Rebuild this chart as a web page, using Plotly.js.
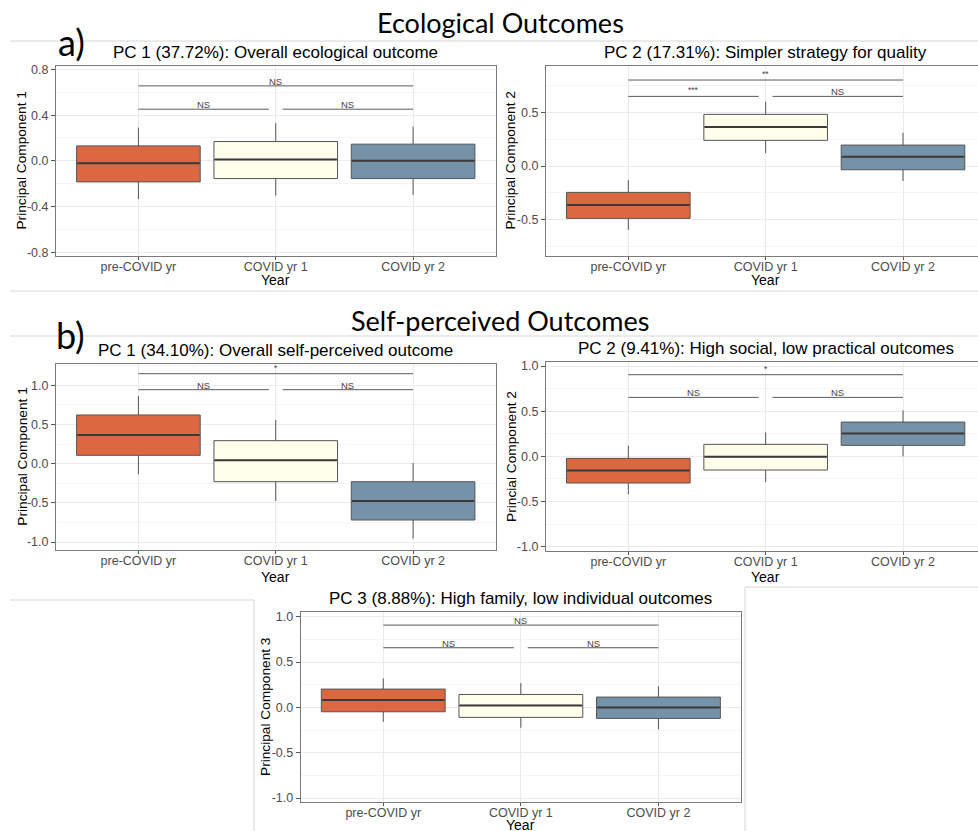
<!DOCTYPE html>
<html>
<head>
<meta charset="utf-8">
<script src="https://cdn.plot.ly/plotly-3.0.1.min.js"></script>
<style>html,body{margin:0;padding:0;background:#fff;}#chart{width:978px;height:831px;}</style>
</head>
<body>
<div id="chart"></div>
<script>
// ---------------- DATA ----------------
const categories = ['pre-COVID yr', 'COVID yr 1', 'COVID yr 2'];

// a) Ecological PC1
const eco1Lower  = [-0.335, -0.304, -0.298];
const eco1Q1     = [-0.184, -0.155, -0.155];
const eco1Median = [-0.020,  0.011,  0.000];
const eco1Q3     = [ 0.131,  0.169,  0.146];
const eco1Upper  = [ 0.291,  0.330,  0.300];
const eco1SigY   = [0.452, 0.452, 0.656];
const eco1SigText = ['NS', 'NS', 'NS'];
const eco1YTicks = [-0.8, -0.4, 0.0, 0.4, 0.8];

// a) Ecological PC2
const eco2Lower  = [-0.598, 0.121, -0.140];
const eco2Q1     = [-0.489, 0.240, -0.035];
const eco2Median = [-0.364, 0.364,  0.087];
const eco2Q3     = [-0.246, 0.483,  0.196];
const eco2Upper  = [-0.131, 0.601,  0.311];
const eco2SigY   = [0.651, 0.651, 0.804];
const eco2SigText = ['***', 'NS', '**'];
const eco2YTicks = [-0.5, 0.0, 0.5];

// b) Self-perceived PC1
const self1Lower  = [-0.135, -0.476, -0.958];
const self1Q1     = [ 0.107, -0.230, -0.719];
const self1Median = [ 0.367,  0.043, -0.476];
const self1Q3     = [ 0.622,  0.294, -0.230];
const self1Upper  = [ 0.865,  0.558,  0.009];
const self1SigY   = [0.945, 0.945, 1.149];
const self1SigText = ['NS', 'NS', '*'];
const self1YTicks = [-1.0, -0.5, 0.0, 0.5, 1.0];

// b) Self-perceived PC2
const self2Lower  = [-0.420, -0.284, 0.000];
const self2Q1     = [-0.295, -0.151, 0.122];
const self2Median = [-0.155, -0.004, 0.254];
const self2Q3     = [-0.022,  0.133, 0.380];
const self2Upper  = [ 0.118,  0.265, 0.509];
const self2SigY   = [0.653, 0.653, 0.904];
const self2SigText = ['NS', 'NS', '*'];
const self2YTicks = [-1.0, -0.5, 0.0, 0.5, 1.0];

// b) Self-perceived PC3
const self3Lower  = [-0.159, -0.225, -0.240];
const self3Q1     = [-0.048, -0.110, -0.121];
const self3Median = [ 0.081,  0.022,  0.000];
const self3Q3     = [ 0.202,  0.143,  0.114];
const self3Upper  = [ 0.320,  0.268,  0.235];
const self3SigY   = [0.658, 0.658, 0.908];
const self3SigText = ['NS', 'NS', 'NS'];
const self3YTicks = [-1.0, -0.5, 0.0, 0.5, 1.0];

// pairwise comparisons (category index from / to)
const compFrom = [0, 1.05, 0];
const compTo   = [0.95, 2, 2];

// ---------------- LAYOUT / STYLE ----------------
const W = 978, H = 831;
const px = x => x / W;
const py = y => 1 - y / H;
const boxColors = ['#DB6840', '#FEFEEA', '#7592A8'];
const FONT = 'Liberation Sans, Arial, sans-serif';
const HEAD = 'Lato, Carlito, sans-serif';

const panels = [
  {lo: eco1Lower, q1: eco1Q1, med: eco1Median, q3: eco1Q3, hi: eco1Upper, sigY: eco1SigY, sigT: eco1SigText, ticks: eco1YTicks,
   box: [56, 495.5, 66, 255.7], yr: [-0.83, 0.83], minor: 0.2, xmax: 2.6, right: true, ytx: 21.7, xty: 280,
   title: 'PC 1 (37.72%): Overall ecological outcome', ytitle: 'Principal Component 1'},
  {lo: eco2Lower, q1: eco2Q1, med: eco2Median, q3: eco2Q3, hi: eco2Upper, sigY: eco2SigY, sigT: eco2SigText, ticks: eco2YTicks,
   box: [545.9, 978, 66, 255.7], yr: [-0.838, 0.935], minor: 0.25, xmax: 2.546, right: false, ytx: 510.7, xty: 280,
   title: 'PC 2 (17.31%): Simpler strategy for quality', ytitle: 'Principal Component 2'},
  {lo: self1Lower, q1: self1Q1, med: self1Median, q3: self1Q3, hi: self1Upper, sigY: self1SigY, sigT: self1SigText, ticks: self1YTicks,
   box: [56, 495.5, 364, 550], yr: [-1.102, 1.273], minor: 0.25, xmax: 2.6, right: true, ytx: 21.7, xty: 576.5,
   title: 'PC 1 (34.10%): Overall self-perceived outcome', ytitle: 'Principal Component 1'},
  {lo: self2Lower, q1: self2Q1, med: self2Median, q3: self2Q3, hi: self2Upper, sigY: self2SigY, sigT: self2SigText, ticks: self2YTicks,
   box: [545.9, 978, 361.7, 550.7], yr: [-1.044, 1.048], minor: 0.25, xmax: 2.546, right: false, ytx: 510.7, xty: 576.5,
   title: 'PC 2 (9.41%): High social, low practical outcomes', ytitle: 'Princial Component 2'},
  {lo: self3Lower, q1: self3Q1, med: self3Median, q3: self3Q3, hi: self3Upper, sigY: self3SigY, sigT: self3SigText, ticks: self3YTicks,
   box: [300.7, 741, 612.3, 801.7], yr: [-1.040, 1.049], minor: 0.25, xmax: 2.6, right: true, ytx: 265, xty: 825,
   title: 'PC 3 (8.88%): High family, low individual outcomes', ytitle: 'Principal Component 3'}
];

const traces = [];
const layout = {
  width: W, height: H,
  margin: {l: 0, r: 0, t: 0, b: 0},
  paper_bgcolor: '#ffffff', plot_bgcolor: '#ffffff',
  showlegend: false,
  font: {family: FONT, color: '#000'},
  boxmode: 'overlay',
  annotations: [], shapes: []
};

panels.forEach((p, k) => {
  const n = k + 1;
  const xa = 'x' + (n === 1 ? '' : n), ya = 'y' + (n === 1 ? '' : n);
  const xk = 'xaxis' + (n === 1 ? '' : n), yk = 'yaxis' + (n === 1 ? '' : n);
  categories.forEach((c, i) => {
    traces.push({
      type: 'box', name: c, x: [i],
      q1: [p.q1[i]], median: [p.med[i]], q3: [p.q3[i]],
      lowerfence: [p.lo[i]], upperfence: [p.hi[i]],
      boxpoints: false, width: 0.9, whiskerwidth: 0,
      fillcolor: boxColors[i], line: {color: '#555555', width: 1},
      xaxis: xa, yaxis: ya, hoverinfo: 'skip'
    });
    // thicker median line, as in ggplot
    traces.push({
      type: 'scatter', mode: 'lines', x: [i - 0.445, i + 0.445], y: [p.med[i], p.med[i]],
      line: {color: '#3a3a3a', width: 2}, xaxis: xa, yaxis: ya, hoverinfo: 'skip'
    });
  });
  // significance bars
  compFrom.forEach((f, j) => {
    traces.push({
      type: 'scatter', mode: 'lines', x: [f, compTo[j]], y: [p.sigY[j], p.sigY[j]],
      line: {color: '#5a5a5a', width: 1}, xaxis: xa, yaxis: ya, hoverinfo: 'skip'
    });
    const star = p.sigT[j] !== 'NS';
    layout.annotations.push({
      xref: xa, yref: ya, x: (f + compTo[j]) / 2, y: p.sigY[j],
      text: p.sigT[j], showarrow: false, yanchor: 'bottom', yshift: star ? -1 : -3,
      font: {family: FONT, size: star ? 8.5 : 9.5, color: '#444'}
    });
  });
  layout[xk] = {
    domain: [px(p.box[0]), px(p.box[1])], anchor: ya,
    range: [-0.6, p.xmax], tickvals: [0, 1, 2], ticktext: categories,
    showgrid: true, gridcolor: '#ebebeb', gridwidth: 1, zeroline: false,
    showline: true, linecolor: '#7a7a7a', linewidth: 1, mirror: true,
    ticks: 'outside', ticklen: 3, tickcolor: '#555', tickwidth: 1,
    ticklabelstandoff: -4,
    tickfont: {family: FONT, size: 12.5, color: '#4d4d4d'}
  };
  layout[yk] = {
    domain: [py(p.box[3]), py(p.box[2])], anchor: xa,
    range: p.yr, tickvals: p.ticks, ticktext: p.ticks.map(v => v.toFixed(1)),
    showgrid: true, gridcolor: '#ebebeb', gridwidth: 1, zeroline: false,
    minor: {dtick: p.minor, tick0: 0, showgrid: true, gridcolor: '#f5f5f5', gridwidth: 1, ticks: ''},
    showline: true, linecolor: '#7a7a7a', linewidth: 1, mirror: p.right,
    ticks: 'outside', ticklen: 4, tickcolor: '#555', tickwidth: 1,
    tickfont: {family: FONT, size: 12.5, color: '#4d4d4d'}
  };
  const cx = (p.box[0] + (p.right ? p.box[1] : p.box[1] + 7.4)) / 2;
  // panel title
  layout.annotations.push({
    xref: 'paper', yref: 'paper', x: px(cx), y: py(p.box[2] - 2), yanchor: 'bottom', xanchor: 'center',
    text: p.title, showarrow: false, font: {family: FONT, size: 17, color: '#000'}
  });
  // y axis title
  layout.annotations.push({
    xref: 'paper', yref: 'paper', x: px(p.ytx), y: py((p.box[2] + p.box[3]) / 2), xanchor: 'center', yanchor: 'middle',
    text: p.ytitle, textangle: -90, showarrow: false, font: {family: FONT, size: 13.7, color: '#000'}
  });
  // x axis title
  layout.annotations.push({
    xref: 'paper', yref: 'paper', x: px(cx), y: py(p.xty), xanchor: 'center', yanchor: 'middle',
    text: 'Year', showarrow: false, font: {family: FONT, size: 14, color: '#000'}
  });
});

// section headings
[['Ecological Outcomes', 500, 22, 27], ['Self-perceived Outcomes', 500, 320, 27]].forEach(h => {
  layout.annotations.push({xref: 'paper', yref: 'paper', x: px(h[1]), y: py(h[2]), xanchor: 'center', yanchor: 'middle',
    text: h[0], showarrow: false, font: {family: HEAD, size: h[3], color: '#000'}});
});
[['a)', 71, 42], ['b)', 70, 335]].forEach(h => {
  layout.annotations.push({xref: 'paper', yref: 'paper', x: px(h[1]), y: py(h[2]), xanchor: 'center', yanchor: 'middle',
    text: h[0], showarrow: false, font: {family: HEAD, size: 36, color: '#000'}});
});

// separator lines
const sep = {color: '#d6d6d6', width: 1};
[[10, 41, 978, 41], [10, 291, 978, 291], [10, 336, 978, 336],
 [10, 600, 254, 600], [254, 600, 254, 831], [745, 587, 978, 587], [745, 587, 745, 831]].forEach(s => {
  layout.shapes.push({type: 'line', xref: 'paper', yref: 'paper', x0: px(s[0]), y0: py(s[1]), x1: px(s[2]), y1: py(s[3]), line: sep, layer: 'below'});
});

Plotly.newPlot('chart', traces, layout, {staticPlot: true, displayModeBar: false});
</script>
</body>
</html>
